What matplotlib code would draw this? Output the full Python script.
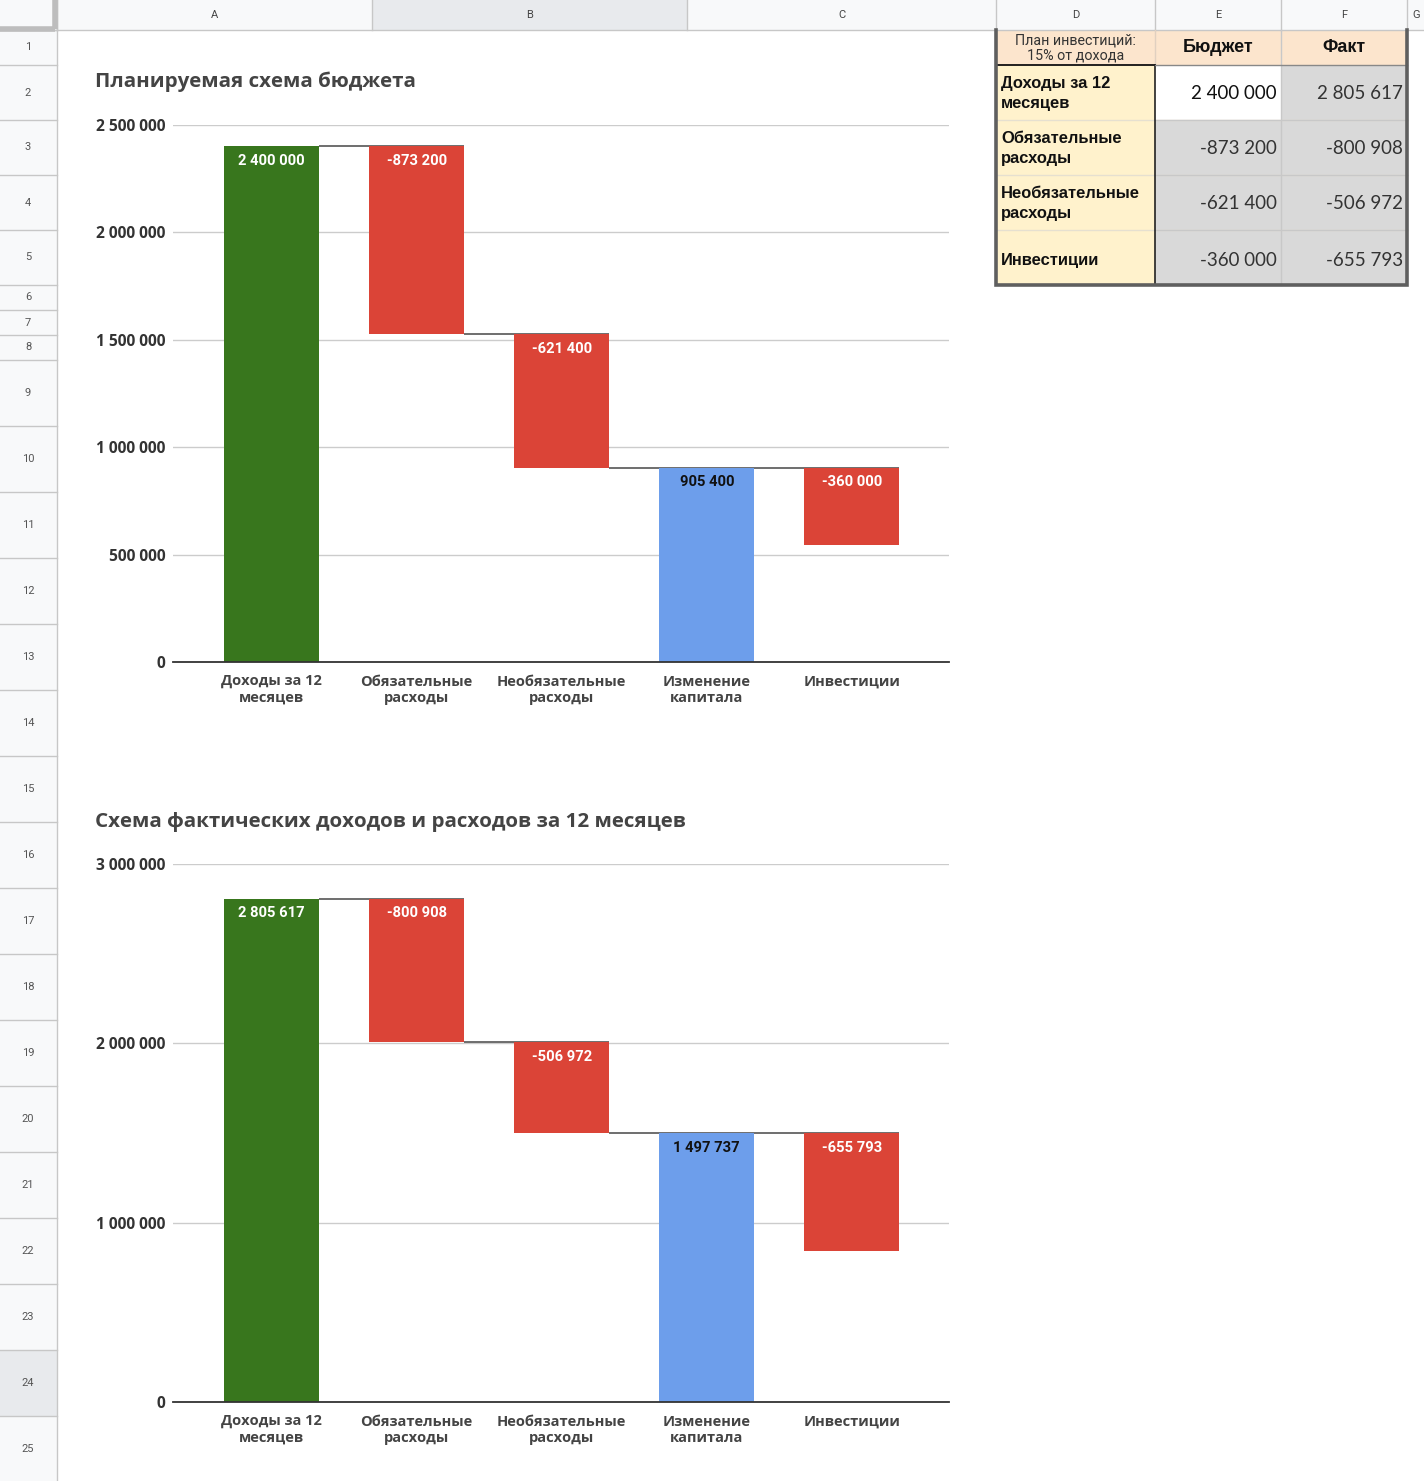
import matplotlib
matplotlib.use("Agg")
import matplotlib.pyplot as plt
from matplotlib.patches import Rectangle
import numpy as np

# ---------------- data ----------------
categories = ["Доходы за 12\nмесяцев", "Обязательные\nрасходы", "Необязательные\nрасходы",
              "Изменение\nкапитала", "Инвестиции"]
budget_values = [2400000, -873200, -621400, -360000]   # income, mandatory, optional, investments
fact_values = [2805617, -800908, -506972, -655793]
chart_titles = ["Планируемая схема бюджета", "Схема фактических доходов и расходов за 12 месяцев"]
budget_ticks = [0, 500000, 1000000, 1500000, 2000000, 2500000]
fact_ticks = [0, 1000000, 2000000, 3000000]

table_header = ["План инвестиций:\n15% от дохода", "Бюджет", "Факт"]
table_rows = ["Доходы за 12\nмесяцев", "Обязательные\nрасходы", "Необязательные\nрасходы", "Инвестиции"]
col_letters = ["A", "B", "C", "D", "E", "F", "G"]

# ---------------- layout helpers ----------------
W, H = 1424, 1481
fig = plt.figure(figsize=(W / 100, H / 100), dpi=100)
fig.patch.set_facecolor("white")

bg = fig.add_axes([0, 0, 1, 1])
bg.set_xlim(0, W)
bg.set_ylim(H, 0)
bg.axis("off")


def fmt(v):
    s = f"{abs(int(round(v))):,}".replace(",", " ")
    return ("-" if v < 0 else "") + s


# spreadsheet headers
col_edges = [57, 372, 687, 996, 1155, 1281, 1407, 1424]
row_edges = [30, 65, 120, 175, 230, 285, 310, 335, 360, 426, 492, 558, 624, 690, 756,
             822, 888, 954, 1020, 1086, 1152, 1218, 1284, 1350, 1416, 1482]
grid_c = "#c7c7c7"
bg.add_patch(Rectangle((0, 0), W, 30, facecolor="#f8f9fa", edgecolor="none"))
bg.add_patch(Rectangle((0, 0), 57, H, facecolor="#f8f9fa", edgecolor="none"))
bg.add_patch(Rectangle((372, 0), 315, 30, facecolor="#e8eaed", edgecolor="none"))
bg.add_patch(Rectangle((0, 1350), 57, 66, facecolor="#e8eaed", edgecolor="none"))
for i, L in enumerate(col_letters):
    x0, x1 = col_edges[i], col_edges[i + 1]
    bg.plot([x0, x0], [0, 30], color=grid_c, lw=1)
    bg.text((x0 + x1) / 2 if L != "G" else x0 + 9, 15, L, ha="center", va="center",
            fontsize=8, color="#444", family="Roboto")
bg.plot([0, W], [30, 30], color=grid_c, lw=1)
bg.plot([57, 57], [0, H], color=grid_c, lw=1)
for i in range(len(row_edges) - 1):
    y0, y1 = row_edges[i], row_edges[i + 1]
    bg.plot([0, 57], [y0, y0], color=grid_c, lw=1)
    bg.text(28, (y0 + y1) / 2, str(i + 1), ha="center", va="center", fontsize=8,
            color="#555", family="Roboto")
# corner cell thick borders
bg.plot([0, 55], [29, 29], color="#bdbdbd", lw=4, solid_capstyle="butt")
bg.plot([55, 55], [0, 29], color="#bdbdbd", lw=4, solid_capstyle="butt")

# ---------------- table ----------------
tx = [996, 1155, 1281, 1407]
ty = [30, 65, 120, 175, 230, 285]
for j in range(3):
    bg.add_patch(Rectangle((tx[j], ty[0]), tx[j + 1] - tx[j], ty[1] - ty[0],
                           facecolor="#fce5cd", edgecolor="none"))
for i in range(4):
    y0, y1 = ty[i + 1], ty[i + 2]
    bg.add_patch(Rectangle((tx[0], y0), tx[1] - tx[0], y1 - y0, facecolor="#fff2cc", edgecolor="none"))
    for j in (1, 2):
        fc = "white" if (i == 0 and j == 1) else "#d9d9d9"
        bg.add_patch(Rectangle((tx[j], y0), tx[j + 1] - tx[j], y1 - y0, facecolor=fc, edgecolor="none"))
# inner borders
for y in ty[2:5]:
    bg.plot([tx[0], tx[3]], [y, y], color="#e6e0d0", lw=1)
    bg.plot([tx[1], tx[3]], [y, y], color="#c8c8c8", lw=1)
bg.plot([tx[2], tx[2]], [ty[0], ty[5]], color="#c8c8c8", lw=1)
bg.plot([tx[1], tx[1]], [ty[0], ty[1]], color="#e0d0c0", lw=1)
bg.plot([tx[1], tx[1]], [ty[1], ty[5]], color="#222", lw=1.2)
bg.plot([tx[0], tx[1]], [ty[1], ty[1]], color="#111", lw=1.3)
bg.plot([tx[1], tx[3]], [ty[1], ty[1]], color="#888", lw=1)
# outer border
bg.plot([tx[0], tx[0], tx[3], tx[3]], [ty[0], ty[5], ty[5], ty[0]], color="#5f5f5f", lw=2.6,
        solid_joinstyle="miter")

bg.text((tx[0] + tx[1]) / 2, 48, table_header[0], ha="center", va="center", fontsize=10.3,
        color="#333", family="Roboto", linespacing=1.12)
for j in (1, 2):
    bg.text((tx[j] + tx[j + 1]) / 2, 48, table_header[j], ha="center", va="center",
            fontsize=13, fontweight="bold", color="#111", family="Liberation Sans")
for i, lab in enumerate(table_rows):
    yc = (ty[i + 1] + ty[i + 2]) / 2 + (1 if i < 3 else 3)
    bg.text(tx[0] + 5, yc, lab, ha="left", va="center", fontsize=11.9, fontweight="bold",
            color="#111", family="Liberation Sans", linespacing=1.45)
    vals = [budget_values[i], fact_values[i]]
    for j, v in enumerate(vals):
        bg.text(tx[j + 2] - 4, yc, fmt(v), ha="right", va="center", fontsize=13.5,
                color="#111" if (i == 0 and j == 0) else "#333", family="Lato")

# ---------------- waterfall charts ----------------
GREEN, RED, BLUE = "#38761d", "#db4437", "#6d9eeb"
TXT = "#444444"


def waterfall(values, top_px, bottom_px, ymax, ticks, title, title_y):
    ax = fig.add_axes([173 / W, 1 - bottom_px / H, (949 - 173) / W, (bottom_px - top_px) / H])
    ax.set_facecolor("none")
    income, mand, opt, inv = values
    capital = income + mand + opt
    bottoms = [0, income + mand, income + mand + opt, 0, capital + inv]
    heights = [income, -mand, -opt, capital, -inv]
    tops = [b + h for b, h in zip(bottoms, heights)]
    colors = [GREEN, RED, RED, BLUE, RED]
    labels = [fmt(income), fmt(mand), fmt(opt), fmt(capital), fmt(inv)]
    xs = np.arange(len(categories))
    bw = 95 / 145
    ax.bar(xs, heights, bottom=bottoms, width=bw, color=colors, zorder=3)
    # connectors
    levels = [income, income + mand, capital, capital]
    for i, lv in enumerate(levels):
        ax.plot([xs[i] + bw / 2, xs[i + 1] + bw / 2], [lv, lv], color="#555", lw=1.2, zorder=2.5,
                solid_capstyle="butt")
    off = ymax * 14.5 / (bottom_px - top_px)
    for i in range(len(xs)):
        ax.text(xs[i], tops[i] - off, labels[i], ha="center", va="center", fontsize=10.6,
                fontweight="bold", family="Roboto",
                color="#111" if colors[i] == BLUE else "white", zorder=4)
    ax.set_xlim(-0.68, 4.67)
    ax.set_ylim(0, ymax)
    ax.set_yticks(ticks)
    ax.set_yticklabels([fmt(t) for t in ticks])
    ax.yaxis.grid(True, color="#cccccc", lw=1, zorder=0)
    ax.set_axisbelow(True)
    for s in ("left", "right", "top"):
        ax.spines[s].set_visible(False)
    ax.spines["bottom"].set_color("#333")
    ax.spines["bottom"].set_linewidth(1.3)
    ax.spines["bottom"].set_zorder(5)
    ax.tick_params(axis="y", length=0, pad=5.5, labelsize=11.2, labelcolor="#333")
    ax.tick_params(axis="x", length=0, pad=9, labelsize=10.5, labelcolor=TXT)
    ax.set_xticks(xs)
    ax.set_xticklabels(categories, linespacing=1.22)
    for lab in ax.get_yticklabels() + ax.get_xticklabels():
        lab.set_fontweight("bold")
        lab.set_family("Open Sans")
    bg.text(95, title_y, title, ha="left", va="center", fontsize=14.75, fontweight="bold",
            color="#444", family="Open Sans")
    return ax


waterfall(budget_values, 125, 662, 2500000, budget_ticks, chart_titles[0], 81.5)
waterfall(fact_values, 864, 1402, 3000000, fact_ticks, chart_titles[1], 821.5)

fig.savefig("out.png", dpi=100, facecolor="white")
